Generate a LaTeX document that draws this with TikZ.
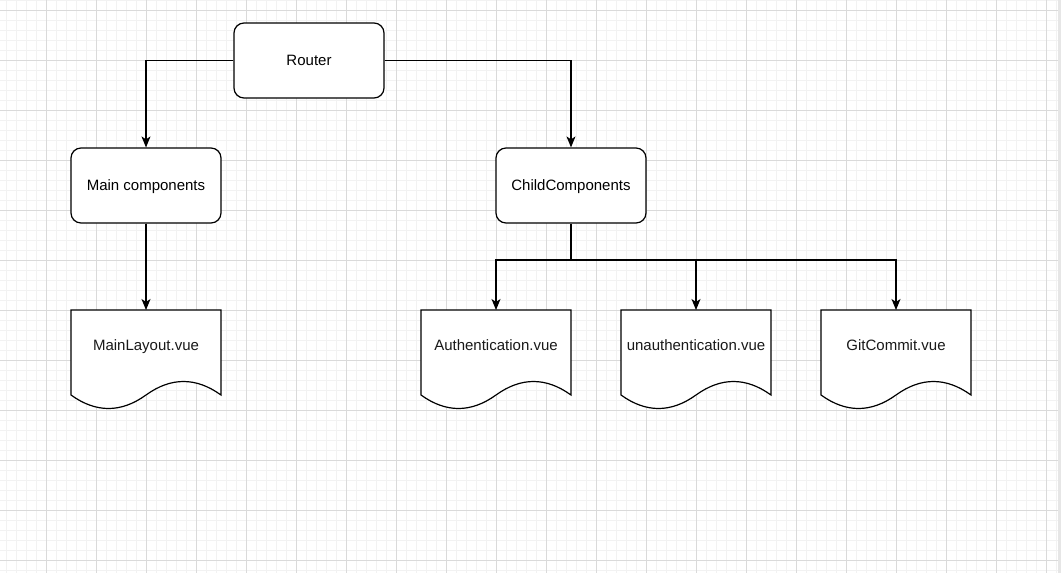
\documentclass[tikz,border=0pt]{standalone}
\usepackage{fontspec}
\setmainfont{Liberation Sans}
\usetikzlibrary{arrows.meta}
\definecolor{minorgrid}{HTML}{F2F2F2}
\definecolor{majorgrid}{HTML}{DADADA}
\definecolor{edgegray}{HTML}{E6E6E6}
\tikzset{
  box/.style={draw=black, line width=1.2pt, rounded corners=10pt, fill=white,
    minimum width=150pt, minimum height=75pt, inner sep=0pt,
    text height=10.7pt, text depth=0pt, font=\fontsize{15pt}{18pt}\selectfont},
  lbl/.style={font=\fontsize{15pt}{18pt}\selectfont, text=black!90, inner sep=0pt,
    text height=10.7pt, text depth=0pt},
  conn/.style={draw=black, line width=1.2pt, -{Stealth[length=11pt,width=9pt,inset=3pt]}},
  plainconn/.style={draw=black, line width=1.2pt},
  docshape/.style={draw=black, line width=1.2pt, fill=white}
}
\newcommand{\docpath}[3]{% #1 left x, #2 top y, #3 name
  \draw[docshape] (#1,#2) -- ({#1+150},#2) -- ({#1+150},{#2+85})
    .. controls ({#1+125},{#2+67}) and ({#1+100},{#2+67}) .. ({#1+75},{#2+85})
    .. controls ({#1+50},{#2+103}) and ({#1+25},{#2+103}) .. (#1,{#2+85}) -- cycle;
  \coordinate (#3) at ({#1+75},#2);
}
\begin{document}
\begin{tikzpicture}[x=1pt,y=-1pt]
\useasboundingbox (0,0) rectangle (1061,573);
\fill[white] (0,0) rectangle (1061,573);
% minor grid
\foreach \i in {0,...,105} {\draw[minorgrid, line width=0.7pt] ({6.7+10*\i},0) -- ({6.7+10*\i},573);}
\foreach \j in {0,...,57} {\draw[minorgrid, line width=0.7pt] (0,{0.7+10*\j}) -- (1061,{0.7+10*\j});}
% major grid
\foreach \i in {0,...,20} {\draw[majorgrid, line width=0.9pt] ({46.7+50*\i},0) -- ({46.7+50*\i},573);}
\foreach \j in {0,...,11} {\draw[majorgrid, line width=0.9pt] (0,{10.7+50*\j}) -- (1061,{10.7+50*\j});}
\fill[edgegray] (1058,0) rectangle (1061,573);

% boxes
\node[box] (router) at (309,60.5) {Router};
\node[box] (main) at (146,185.5) {Main components};
\node[box] (child) at (571,185.5) {ChildComponents};

% documents
\docpath{71}{310}{mlay}
\docpath{421}{310}{auth}
\docpath{621}{310}{unauth}
\docpath{821}{310}{git}
\node[lbl] (mlaylbl) at (146,345.5) {MainLayout.vue};
\node[lbl] (authlbl) at (496,345.5) {Authentication.vue};
\node[lbl] (unauthlbl) at (696,345.5) {unauthentication.vue};
\node[lbl] (gitlbl) at (896,345.5) {GitCommit.vue};

% connectors
\draw[conn] (router.west) -| (main.north);
\draw[conn] (router.east) -| (child.north);
\draw[conn] (main.south) -- (mlay);
\coordinate (split) at (571,260);
\draw[plainconn] (child.south) -- (split);
\draw[conn] (split) -| (auth);
\draw[conn] (split) -| (unauth);
\draw[conn] (split) -| (git);
\end{tikzpicture}
\end{document}
